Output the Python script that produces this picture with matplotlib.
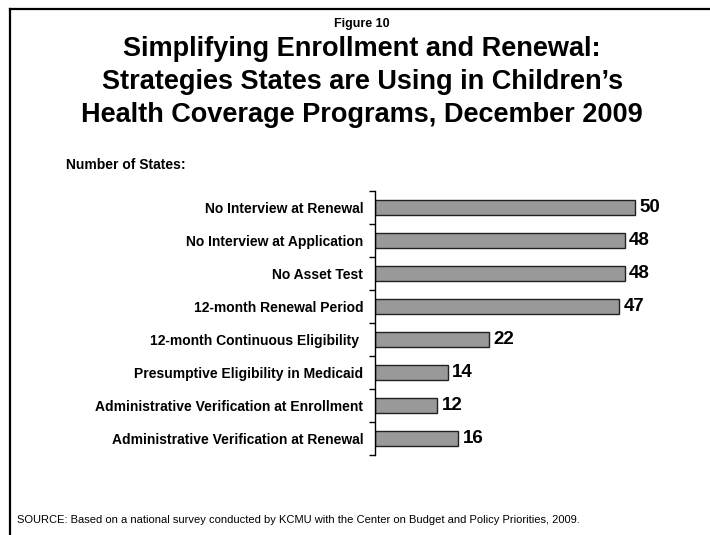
import matplotlib
matplotlib.use('Agg')
import matplotlib.pyplot as plt
import numpy as np

plt.rcParams['font.family'] = ['Liberation Sans', 'DejaVu Sans']

# Strategies and number of states using each
strategies = [
    'No Interview at Renewal',
    'No Interview at Application',
    'No Asset Test',
    '12-month Renewal Period',
    '12-month Continuous Eligibility ',
    'Presumptive Eligibility in Medicaid',
    'Administrative Verification at Enrollment',
    'Administrative Verification at Renewal',
]
num_states = [50, 48, 48, 47, 22, 14, 12, 16]

fig = plt.figure(figsize=(7.1, 5.35), dpi=100)
ax = fig.add_axes([0.5282, 0.1495, 0.4577, 0.4935])

y = np.arange(len(strategies))
bars = ax.barh(y, num_states, height=0.44, color='#999999',
               edgecolor='#222222', linewidth=1.0)

for rect, val in zip(bars, num_states):
    ax.annotate(str(val), (rect.get_width(), rect.get_y() + rect.get_height() / 2),
                xytext=(3, 0), textcoords='offset points',
                ha='left', va='center', fontsize=13.5, fontweight='bold')

ax.set_xlim(0, 62.5)
ax.set_ylim(len(strategies) - 0.5, -0.5)

ax.set_yticks(y)
ax.set_yticklabels(strategies, fontsize=10, fontweight='bold')
ax.set_yticks(np.arange(len(strategies) + 1) - 0.5, minor=True)
ax.tick_params(axis='y', which='major', length=0, pad=8.5)
ax.tick_params(axis='y', which='minor', length=4, width=1, direction='out')
ax.set_xticks([])

for side in ['top', 'right', 'bottom']:
    ax.spines[side].set_visible(False)
ax.spines['left'].set_linewidth(1)

# titles and notes
fig.text(0.51, 1 - 27 / 535, 'Figure 10', ha='center', va='baseline',
         fontsize=9, fontweight='bold')
fig.text(0.51, 1 - 122 / 535,
         'Simplifying Enrollment and Renewal:\n'
         'Strategies States are Using in Children\u2019s\n'
         'Health Coverage Programs, December 2009',
         ha='center', va='baseline', fontsize=19.5, fontweight='bold',
         linespacing=1.34)
fig.text(66 / 710, 1 - 169 / 535, 'Number of States:', ha='left', va='baseline',
         fontsize=10, fontweight='bold')
fig.text(17 / 710, 1 - 523 / 535,
         'SOURCE: Based on a national survey conducted by KCMU with the Center on '
         'Budget and Policy Priorities, 2009.',
         ha='left', va='baseline', fontsize=8)

# slide frame on top and left edges
fig.add_artist(plt.Line2D([9.5 / 710, 1], [1 - 8.5 / 535] * 2, color='black', lw=1.6,
                          transform=fig.transFigure))
fig.add_artist(plt.Line2D([9.5 / 710] * 2, [0, 1 - 8.5 / 535], color='black', lw=1.6,
                          transform=fig.transFigure))

fig.savefig('out.png', dpi=100)
